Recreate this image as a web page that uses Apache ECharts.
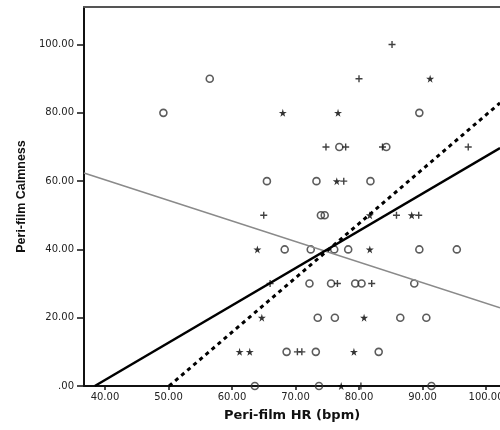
<!DOCTYPE html>
<html>
<head>
<meta charset="utf-8">
<script src="https://cdn.jsdelivr.net/npm/echarts@6/dist/echarts.min.js"></script>
<style>
  html, body { margin: 0; padding: 0; background: #fff; }
  #chart { width: 500px; height: 430px; }
</style>
</head>
<body>
<div id="chart"></div>
<script>
// Peri-film heart rate vs. calmness, three groups with their linear fit lines.
const xTicks = [40, 50, 60, 70, 80, 90, 100];
const yTicks = [0, 20, 40, 60, 80, 100];

// Group A (open circles): [HR, calmness]
const groupCircle = [
  [56.5, 90], [49.2, 80], [89.5, 80],
  [76.9, 70], [84.3, 70],
  [65.5, 60], [73.3, 60], [81.8, 60],
  [74.0, 50], [74.6, 50],
  [68.3, 40], [72.4, 40], [76.1, 40], [78.3, 40], [89.5, 40], [95.4, 40],
  [72.2, 30], [75.6, 30], [79.4, 30], [80.4, 30], [88.7, 30],
  [73.5, 20], [76.2, 20], [86.5, 20], [90.6, 20],
  [68.6, 10], [73.2, 10], [83.1, 10],
  [63.6, 0], [73.7, 0], [91.4, 0]
];

// Group B (stars)
const groupStar = [
  [91.2, 90],
  [68.0, 80], [76.7, 80],
  [76.5, 60],
  [81.7, 50], [88.3, 50],
  [64.0, 40], [81.7, 40],
  [64.7, 20], [80.8, 20],
  [61.2, 10], [62.8, 10], [79.2, 10],
  [77.2, 0]
];

// Group C (plus signs)
const groupPlus = [
  [85.2, 100],
  [80.0, 90],
  [74.8, 70], [77.9, 70], [83.7, 70], [97.2, 70],
  [77.6, 60],
  [65.0, 50], [85.9, 50], [89.4, 50],
  [66.0, 30], [76.6, 30], [82.0, 30],
  [70.3, 10], [71.0, 10],
  [80.3, 0]
];

// Fit line endpoints for each group
const fitSolid = [[38.4, 0], [102.2, 69.7]];
const fitDashed = [[50.1, 0], [102.2, 82.9]];
const fitGray = [[36.7, 62.4], [102.2, 22.9]];

const STAR_PATH = 'path://M50,0 L61,35 L98,35 L68,57 L79,91 L50,70 L21,91 L32,57 L2,35 L39,35 Z';
const PLUS_PATH = 'path://M4,0 L6,0 L6,4 L10,4 L10,6 L6,6 L6,10 L4,10 L4,6 L0,6 L0,4 L4,4 Z';

const labelFont = { fontFamily: 'DejaVu Sans', fontSize: 10, color: '#222' };
const X_MIN = 36.7, X_MAX = 102.2;

const chart = echarts.init(document.getElementById('chart'), null, { renderer: 'canvas' });
chart.setOption({
  animation: false,
  backgroundColor: '#fff',
  grid: { left: 84, top: 7, right: 0, bottom: 44, outerBoundsMode: 'none', containLabel: false },
  xAxis: [
    {
      type: 'value', min: X_MIN, max: X_MAX,
      name: 'Peri-film HR (bpm)', nameLocation: 'middle', nameGap: 23,
      nameTextStyle: { fontFamily: 'DejaVu Sans', fontWeight: 'bold', fontSize: 13, color: '#111' },
      axisLine: { lineStyle: { color: '#111', width: 2 } },
      axisTick: { length: 4, lineStyle: { color: '#111', width: 1.5 }, customValues: xTicks },
      axisLabel: Object.assign({ margin: 6, customValues: xTicks, formatter: v => v.toFixed(2) }, labelFont),
      splitLine: { show: false }
    },
    {
      // top frame edge
      type: 'value', position: 'top', min: X_MIN, max: X_MAX,
      axisLine: { lineStyle: { color: '#555', width: 2 } },
      axisTick: { show: false }, axisLabel: { show: false }, splitLine: { show: false }
    }
  ],
  yAxis: {
    type: 'value', min: 0, max: 111,
    name: 'Peri-film Calmness', nameLocation: 'middle', nameGap: 37, nameRotate: 90,
    nameTextStyle: { fontFamily: 'Liberation Sans', fontWeight: 'bold', fontSize: 12.5, color: '#111' },
    axisLine: { lineStyle: { color: '#111', width: 2 } },
    axisTick: { length: 7, lineStyle: { color: '#111', width: 1.5 }, customValues: yTicks },
    axisLabel: Object.assign({ margin: 10, customValues: yTicks, formatter: v => v === 0 ? '.00' : v.toFixed(2) }, labelFont),
    splitLine: { show: false }
  },
  series: [
    {
      type: 'scatter', data: groupCircle, clip: true, symbol: 'circle', symbolSize: 7,
      itemStyle: { color: 'transparent', borderColor: '#333', borderWidth: 1.6 }
    },
    {
      type: 'scatter', data: groupStar, clip: true, symbol: STAR_PATH, symbolSize: 8,
      itemStyle: { color: '#000' }
    },
    {
      type: 'scatter', data: groupPlus, clip: true, symbol: PLUS_PATH, symbolSize: 7,
      itemStyle: { color: '#111' }
    },
    {
      type: 'line', data: fitGray, showSymbol: false, symbol: 'none',
      lineStyle: { color: '#8a8a8a', width: 1.6 }
    },
    {
      type: 'line', data: fitSolid, showSymbol: false, symbol: 'none',
      lineStyle: { color: '#000', width: 2.5 }
    },
    {
      type: 'line', data: fitDashed, showSymbol: false, symbol: 'none',
      lineStyle: { color: '#000', width: 3, type: [4, 4] }
    }
  ]
});
</script>
</body>
</html>
